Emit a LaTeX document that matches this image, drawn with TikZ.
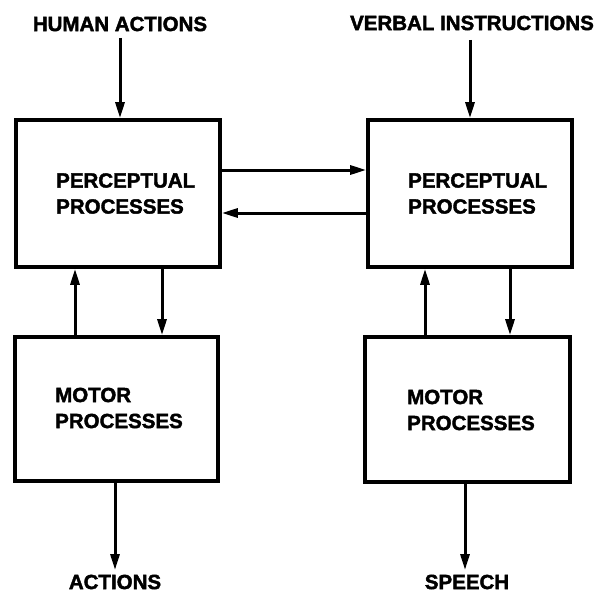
\documentclass[tikz,border=0pt]{standalone}
\usepackage{fontspec}
\setmainfont{Liberation Sans}[BoldFeatures={FakeBold=2}]
\usetikzlibrary{arrows.meta}
\begin{document}
\begin{tikzpicture}[x=1pt,y=-1pt,
  box/.style={draw,line width=3.6pt,minimum width=#1,inner sep=0pt},
  lbl/.style={font=\bfseries\fontsize{20.5}{27}\selectfont,inner sep=0pt},
  intext/.style={font=\bfseries\fontsize{20.5}{26}\selectfont,inner sep=0pt,align=left,anchor=west},
  arr/.style={line width=3pt,-{Triangle[length=16pt,width=9pt]}}]
\useasboundingbox (0,0) rectangle (600,594);
% boxes
\node[box=204pt,minimum height=147pt] (b1) at (118,193.5) {};
\node[box=204pt,minimum height=147pt] (b2) at (470,193.5) {};
\node[box=203pt,minimum height=144pt] (b3) at (116.5,409) {};
\node[box=205pt,minimum height=145pt] (b4) at (467.5,409.5) {};
% texts in boxes
\node[intext] (t1) at (56,193.5) {PERCEPTUAL\\PROCESSES};
\node[intext] (t2) at (408,193.5) {PERCEPTUAL\\PROCESSES};
\node[intext] (t3) at (55,408) {MOTOR\\PROCESSES};
\node[intext] (t4) at (407,410) {MOTOR\\PROCESSES};
% outer labels
\node[lbl] (ha) at (120,24) {HUMAN ACTIONS};
\node[lbl] (vi) at (472,23) {VERBAL INSTRUCTIONS};
\node[lbl] (ac) at (115,582) {ACTIONS};
\node[lbl] (sp) at (467,582) {SPEECH};
% input arrows
\coordinate (hs) at (120,38);
\coordinate (vs) at (470,40);
\draw[arr] (hs) -- (b1.north -| hs);
\draw[arr] (vs) -- (b2.north -| vs);
% horizontal arrows
\draw[arr] (b1.east |- 0,170) -- (b2.west |- 0,170);
\draw[arr] (b2.west |- 0,213) -- (b1.east |- 0,213);
% vertical arrows left
\draw[arr] (b3.north -| 75,0) -- (b1.south -| 75,0);
\draw[arr] (b1.south -| 162,0) -- (b3.north -| 162,0);
% vertical arrows right
\draw[arr] (b4.north -| 425,0) -- (b2.south -| 425,0);
\draw[arr] (b2.south -| 510,0) -- (b4.north -| 510,0);
% output arrows
\coordinate (ae) at (115,570);
\coordinate (se) at (465,570);
\draw[arr] (b3.south -| ae) -- (ae);
\draw[arr] (b4.south -| se) -- (se);
\end{tikzpicture}
\end{document}
